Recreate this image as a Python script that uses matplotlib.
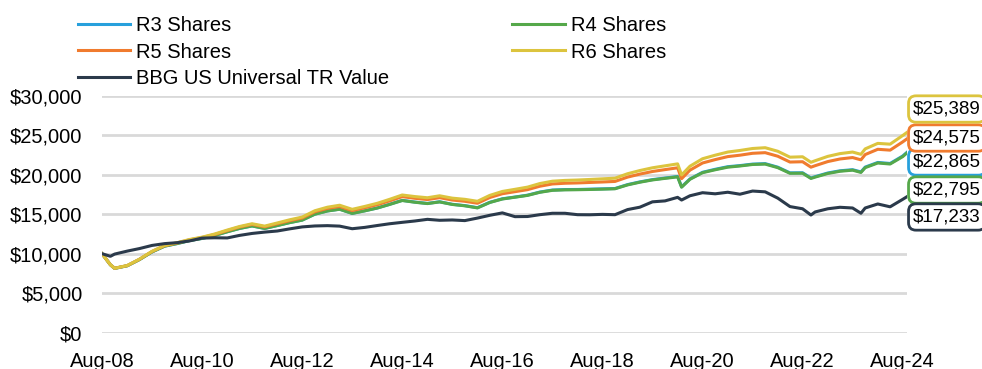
import matplotlib
matplotlib.use("Agg")
import matplotlib.pyplot as plt
import pandas as pd
from matplotlib.ticker import FuncFormatter

plt.rcParams['font.family'] = ['Liberation Sans', 'DejaVu Sans']

# growth of $10,000, month-end values
dates = [
    "2008-08", "2008-10", "2008-11", "2009-02", "2009-05", "2009-08", "2009-11",
    "2010-02", "2010-05", "2010-08", "2010-11", "2011-02", "2011-05", "2011-08",
    "2011-11", "2012-02", "2012-05", "2012-08", "2012-11", "2013-02", "2013-05",
    "2013-08", "2013-11", "2014-02", "2014-05", "2014-08", "2014-11", "2015-02",
    "2015-05", "2015-08", "2015-11", "2016-02", "2016-05", "2016-08", "2016-11",
    "2017-02", "2017-05", "2017-08", "2017-11", "2018-02", "2018-05", "2018-08",
    "2018-11", "2019-02", "2019-05", "2019-08", "2019-11", "2020-02", "2020-03",
    "2020-05", "2020-08", "2020-11", "2021-02", "2021-05", "2021-08", "2021-11",
    "2022-02", "2022-05", "2022-08", "2022-10", "2022-11", "2023-02", "2023-05",
    "2023-08", "2023-10", "2023-11", "2024-02", "2024-05", "2024-08", "2024-09",
]

r6 = [
    10000, 8600, 8150, 8500, 9300, 10300, 11050,
    11400, 11800, 12100, 12500, 13000, 13450, 13800,
    13500, 13900, 14300, 14650, 15450, 15900, 16150,
    15630, 16000, 16400, 16900, 17450, 17250, 17100,
    17350, 17050, 16900, 16650, 17400, 17900, 18170,
    18450, 18900, 19200, 19300, 19350, 19420, 19500,
    19580, 20150, 20550, 20900, 21150, 21400, 19990,
    21100, 22050, 22500, 22900, 23100, 23350, 23450,
    23000, 22250, 22300, 21600, 21800, 22350, 22700,
    22900, 22610, 23300, 24000, 23900, 25000, 25389,
]

r5 = [
    10000, 8600, 8150, 8490, 9290, 10280, 11020,
    11370, 11760, 12050, 12440, 12930, 13380, 13720,
    13410, 13800, 14190, 14530, 15320, 15750, 15990,
    15470, 15830, 16220, 16700, 17240, 17030, 16870,
    17110, 16810, 16650, 16400, 17130, 17610, 17870,
    18130, 18560, 18850, 18940, 18980, 19040, 19100,
    19170, 19720, 20100, 20430, 20670, 20900, 19520,
    20600, 21510, 21940, 22320, 22500, 22740, 22820,
    22370, 21630, 21670, 20980, 21170, 21690, 22020,
    22200, 21910, 22580, 23250, 23140, 24190, 24575,
]

r4 = [
    10000, 8590, 8140, 8470, 9250, 10230, 10960,
    11290, 11660, 11940, 12310, 12780, 13200, 13520,
    13210, 13570, 13940, 14260, 15010, 15420, 15640,
    15110, 15440, 15800, 16250, 16750, 16530, 16360,
    16570, 16250, 16080, 15810, 16500, 16940, 17170,
    17400, 17790, 18040, 18100, 18120, 18150, 18190,
    18240, 18730, 19070, 19360, 19560, 19750, 18440,
    19440, 20280, 20650, 20980, 21130, 21320, 21370,
    20920, 20200, 20210, 19550, 19720, 20180, 20460,
    20600, 20310, 20920, 21510, 21380, 22320, 22795,
]

r3 = [
    10000, 8590, 8140, 8470, 9260, 10230, 10960,
    11290, 11670, 11940, 12320, 12790, 13210, 13530,
    13210, 13580, 13950, 14270, 15020, 15430, 15650,
    15120, 15450, 15810, 16270, 16770, 16550, 16380,
    16590, 16270, 16100, 15840, 16520, 16970, 17190,
    17430, 17820, 18080, 18140, 18150, 18190, 18230,
    18270, 18770, 19110, 19400, 19600, 19800, 18480,
    19490, 20330, 20710, 21040, 21180, 21370, 21430,
    20980, 20260, 20270, 19610, 19780, 20240, 20520,
    20660, 20380, 20990, 21580, 21450, 22400, 22865,
]

bbg = [
    10000, 9670, 9950, 10330, 10650, 11050, 11280,
    11400, 11620, 11980, 12020, 12000, 12320, 12570,
    12740, 12880, 13150, 13400, 13520, 13560, 13500,
    13170, 13340, 13580, 13800, 13980, 14150, 14360,
    14240, 14280, 14200, 14520, 14870, 15180, 14700,
    14720, 14950, 15130, 15130, 14950, 14940, 14990,
    14950, 15600, 15900, 16580, 16700, 17150, 16810,
    17350, 17740, 17600, 17800, 17550, 17950, 17850,
    17050, 15980, 15700, 14910, 15300, 15700, 15890,
    15800, 15130, 15800, 16310, 15950, 16900, 17233,
]

names = ["R3 Shares", "R4 Shares", "R5 Shares", "R6 Shares", "BBG US Universal TR Value"]
series = [r3, r4, r5, r6, bbg]
colors = ["#27a0dc", "#55a84a", "#f07b2e", "#dcc43e", "#2b3a4b"]

# end-value tags stacked down the right edge (y in data units)
tag_y = [21640, 18080, 24680, 28360, 14660]

x = pd.to_datetime(dates)

fig = plt.figure(figsize=(9.82, 3.69), dpi=100)
ax = fig.add_axes([0.1039, 0.0989, 0.8197, 0.6407])

lines = []
for vals, name, col, z in zip(series, names, colors, [3, 4, 5, 6, 7]):
    ln, = ax.plot(x, vals, color=col, lw=2.2, label=name, zorder=z,
                  solid_joinstyle="round")
    lines.append(ln)

ax.set_ylim(0, 30000)
ax.set_yticks(range(0, 30001, 5000))
ax.yaxis.set_major_formatter(FuncFormatter(lambda v, _: f"${v:,.0f}"))
ax.set_xlim(pd.Timestamp("2008-08-01"), pd.Timestamp("2024-09-01"))
xt = [pd.Timestamp(f"{y}-08-01") for y in range(2008, 2025, 2)]
ax.set_xticks(xt)
ax.set_xticklabels([f"Aug-{y % 100:02d}" for y in range(2008, 2025, 2)])

ax.grid(axis="y", color="#d9d9d9", lw=2)
ax.set_axisbelow(True)
for s in ax.spines.values():
    s.set_visible(False)
ax.tick_params(axis="both", length=0, labelsize=14.5, colors="#000000")
ax.tick_params(axis="y", pad=14)
ax.tick_params(axis="x", pad=14)

for vals, col, ty in zip(series, colors, tag_y):
    ax.annotate(f"${vals[-1]:,}", xy=(1.0, ty), xycoords=("axes fraction", "data"),
                xytext=(4.5, 0), textcoords="offset points", va="center", ha="left",
                fontsize=13.5, annotation_clip=False,
                bbox=dict(boxstyle="round,pad=0.25,rounding_size=0.4", fc="white",
                          ec=col, lw=2))

order = [0, 2, 4, 1, 3]
fig.legend([lines[i] for i in order], [names[i] for i in order],
           ncol=2, loc="upper left", bbox_to_anchor=(0.061, 1.005),
           frameon=False, fontsize=14.5, handlelength=2.6, handletextpad=0.3,
           labelspacing=0.36, columnspacing=6.1)

fig.savefig("out.png", dpi=100)
